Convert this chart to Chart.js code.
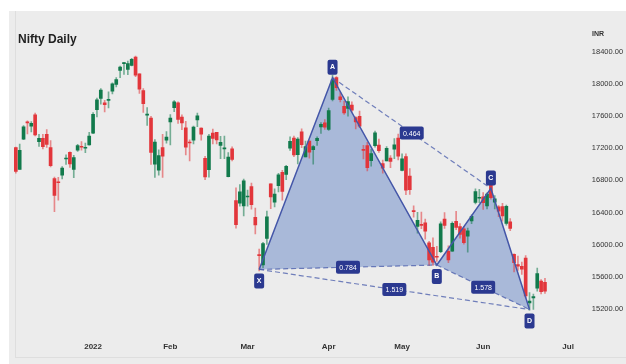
<!DOCTYPE html>
<html>
<head>
<meta charset="utf-8">
<script src="https://cdn.jsdelivr.net/npm/chart.js@4.4.1/dist/chart.umd.min.js"></script>
<style>
html, body { margin: 0; padding: 0; background: #fff; }
#panel { position: absolute; left: 9px; top: 11px; width: 617px; height: 353px; background: #ececec; }
#frame { position: absolute; left: 15px; top: 11px; width: 611px; height: 346px; border-left: 1px solid #dedede; border-bottom: 1px solid #dedede; }
#wrap { position: absolute; left: 0; top: 0; width: 626px; height: 364px; }
</style>
</head>
<body>
<div id="panel"></div>
<div id="frame"></div>
<div id="wrap"><canvas id="myChart" width="626" height="364"></canvas></div>
<script>
// trading days, Dec 2021 - early Jul 2022
const dec = [6,7,8,9,10,13,14,15,16,17,20,21,22,23,24,27,28,29,30,31].map(d => '2021-12-' + d)
const jan = [3,4,5,6,7,10,11,12,13,14,17,18,19,20,21,24,25,27,28,31].map(d => '2022-01-' + d)
const feb = [1,2,3,4,7,8,9,10,11,14,15,16,17,18,21,22,23,24,25,28].map(d => '2022-02-' + d)
const mar = [2,3,4,7,8,9,10,11,14,15,16,17,21,22,23,24,25,28,29,30,31].map(d => '2022-03-' + d)
const apr = [1,4,5,6,7,8,11,12,13,18,19,20,21,22,25,26,27,28,29].map(d => '2022-04-' + d)
const may = [2,4,5,6,9,10,11,12,13,16,17,18,19,20,23,24,25,26,27,30,31].map(d => '2022-05-' + d)
const jun = [1,2,3,6,7,8,9,10,13,14,15,16,17,20,21,22,23,24,27,28,29,30].map(d => '2022-06-' + d)
const jul = [1,4,5].map(d => '2022-07-' + d)
const dates = [].concat(dec, jan, feb, mar, apr, may, jun, jul)

const opens = [
  17209,16937,17315,17524,17476,17619,17283,17324,17374,17209,16824,16774,16865,17067,17150,16937,17177,17220,17201,17244,
  17388,17681,17821,17768,17797,17913,17997,18171,18257,18185,18235,18337,18129,17921,17613,17576,17001,16929,17208,17301,
  17529,17706,17767,17591,17456,17279,17303,17553,17451,17076,16933,17391,17398,17236,17192,16847,17195,16548,16515,16481,
  16593,16723,16340,15867,15747,16078,16757,16528,16733,16900,16876,17202,17329,17120,17405,17094,17289,17182,17297,17468,17519,
  17436,17810,18081,17843,17723,17698,17740,17584,17599,17183,17235,17045,17234,17242,17009,17043,17079,17189,17329,
  16924,17097,16854,16416,16227,16249,16270,16022,15967,15845,15912,16318,15917,15917,16290,16225,16196,16105,16296,16527,16578,
  16594,16481,16761,16530,16469,16474,16264,16284,15877,15750,15729,15833,15272,15334,15455,15545,15530
]
const highs = [
  17216,17252,17484,17543,17534,17639,17376,17376,17435,17298,16840,16837,16971,17118,17155,17112,17250,17285,17264,17400,
  17646,17827,17944,17797,17905,18017,18082,18227,18272,18287,18321,18351,18129,17944,17707,17599,17309,17182,17373,17410,
  17622,17794,17781,17617,17536,17306,17477,17639,17455,17099,17375,17440,17399,17351,17352,17148,17220,16706,16749,16815,
  16678,16768,16456,15945,16028,16418,16758,16694,16887,16927,16987,17344,17353,17334,17442,17291,17295,17235,17343,17522,17559,
  17703,18114,18095,17901,17787,17842,17779,17597,17663,17237,17276,17186,17414,17315,17054,17223,17110,17322,17378,
  17132,17132,16946,16484,16403,16404,16319,16041,16084,15978,16284,16400,15985,16284,16415,16262,16223,16205,16370,16695,16690,
  16649,16646,16793,16610,16487,16514,16492,16324,15886,15858,15783,15863,15401,15382,15707,15565,15580
]
const lows = [
  16891,16937,17308,17379,17405,17355,17225,17192,17211,16967,16410,16554,16819,16998,16963,16834,17161,17176,17146,17238,
  17383,17593,17749,17655,17704,17879,17965,18081,18120,18119,18228,18094,17885,17648,17485,16998,16837,16866,16836,17264,
  17244,17658,17511,17433,17119,17044,17255,17471,17303,16810,16839,17255,17256,17070,17070,16844,17043,16203,16478,16357,
  16478,16442,16133,15671,15711,16002,16447,16470,16656,16555,16810,17175,17096,17006,17208,17092,17077,17003,17235,17387,17435,
  17422,17791,17921,17779,17623,17600,17650,17442,17457,17067,16918,16978,17215,17150,16889,17043,16958,17071,17054,
  16917,16623,16624,16341,16142,16197,16067,15736,15740,15789,15900,16202,15775,15916,16185,16079,16006,15904,16262,16506,16521,
  16438,16443,16567,16444,16347,16293,16243,16172,15659,15678,15627,15335,15183,15191,15419,15385,15390
]
const closes = [
  16913,17176,17469,17517,17511,17368,17325,17221,17248,16985,16614,16771,16955,17072,17004,17086,17233,17213,17204,17354,
  17625,17805,17925,17745,17812,18003,18056,18212,18258,18256,18309,18113,17938,17757,17617,17149,17278,17110,17102,17340,
  17577,17780,17560,17516,17214,17266,17464,17606,17375,16843,17352,17322,17304,17276,17207,17092,17063,16248,16658,16794,
  16606,16498,16245,15863,16013,16345,16594,16630,16871,16663,16975,17287,17117,17316,17245,17223,17153,17222,17325,17498,17465,
  17670,18053,17957,17807,17640,17784,17675,17530,17476,17174,16959,17136,17393,17172,16954,17201,17038,17245,17103,
  17069,16677,16683,16411,16302,16240,16167,15808,15782,15842,16259,16240,15809,16266,16215,16125,16025,16170,16352,16661,16585,
  16523,16628,16584,16570,16416,16356,16478,16202,15774,15732,15692,15361,15294,15350,15638,15413,15420
]

// axis labels
const monthTickIdx = [20, 40, 60, 81, 100, 121, 143]
const monthTickText = ['2022', 'Feb', 'Mar', 'Apr', 'May', 'Jun', 'Jul']
const priceTicks = [15200, 15600, 16000, 16400, 16800, 17200, 17600, 18000, 18400]

// harmonic pattern points
const patternNames = ['X', 'A', 'B', 'C', 'D']
const patternIdx = [63, 82, 109, 123, 133]
const patternPrice = [15690, 18080, 15745, 16700, 15190]
const patternAbove = [false, true, false, true, false]
// ratio labels on XB, AC, BD, XD
const ratioPairs = [[0, 2], [1, 3], [2, 4], [0, 4]]
const ratioText = ['0.784', '0.464', '1.578', '1.519']

const green = '#127a4c'
const red = '#e2363b'
const bodyColors = opens.map((o, i) => closes[i] >= o ? green : red)
const wickColors = opens.map((o, i) => closes[i] >= o ? 'rgba(18,122,76,0.55)' : 'rgba(226,54,59,0.55)')

function roundRect(ctx, x, y, w, h, r) {
    ctx.beginPath()
    ctx.moveTo(x + r, y)
    ctx.arcTo(x + w, y, x + w, y + h, r)
    ctx.arcTo(x + w, y + h, x, y + h, r)
    ctx.arcTo(x, y + h, x, y, r)
    ctx.arcTo(x, y, x + w, y, r)
    ctx.closePath()
}

const patternPlugin = {
    id: 'pattern',
    beforeDatasetsDraw(chart) {
        const ctx = chart.ctx
        const xs = chart.scales.x, ys = chart.scales.y
        const p = patternIdx.map((v, i) => [xs.getPixelForValue(v), ys.getPixelForValue(patternPrice[i])])
        ctx.save()
        ctx.fillStyle = 'rgba(70,110,190,0.40)'
        ;[[0, 1, 2], [2, 3, 4]].forEach(t => {
            ctx.beginPath()
            ctx.moveTo(p[t[0]][0], p[t[0]][1])
            ctx.lineTo(p[t[1]][0], p[t[1]][1])
            ctx.lineTo(p[t[2]][0], p[t[2]][1])
            ctx.closePath()
            ctx.fill()
        })
        ctx.restore()
    },
    afterDatasetsDraw(chart) {
        const ctx = chart.ctx
        const xs = chart.scales.x, ys = chart.scales.y
        const p = patternIdx.map((v, i) => [xs.getPixelForValue(v), ys.getPixelForValue(patternPrice[i])])
        ctx.save()
        // dashed ratio lines
        ctx.strokeStyle = 'rgba(70,90,170,0.75)'
        ctx.lineWidth = 1.2
        ctx.setLineDash([5, 3])
        ratioPairs.forEach(pr => {
            ctx.beginPath()
            ctx.moveTo(p[pr[0]][0], p[pr[0]][1])
            ctx.lineTo(p[pr[1]][0], p[pr[1]][1])
            ctx.stroke()
        })
        // solid legs
        ctx.setLineDash([])
        ctx.strokeStyle = '#4456a8'
        ctx.lineWidth = 1.5
        ctx.beginPath()
        p.forEach((pt, i) => i ? ctx.lineTo(pt[0], pt[1]) : ctx.moveTo(pt[0], pt[1]))
        ctx.stroke()
        // ratio boxes
        ctx.textAlign = 'center'
        ctx.textBaseline = 'middle'
        ctx.font = '7px "Liberation Sans", Arial, sans-serif'
        ratioPairs.forEach((pr, i) => {
            const mx = (p[pr[0]][0] + p[pr[1]][0]) / 2
            const my = (p[pr[0]][1] + p[pr[1]][1]) / 2
            ctx.fillStyle = '#2b3990'
            roundRect(ctx, mx - 12, my - 6.5, 24, 13, 2)
            ctx.fill()
            ctx.fillStyle = '#fff'
            ctx.fillText(ratioText[i], mx, my + 0.5)
        })
        // point boxes
        ctx.font = 'bold 7px "Liberation Sans", Arial, sans-serif'
        p.forEach((pt, i) => {
            const top = patternAbove[i] ? pt[1] - 18 : pt[1] + 4
            ctx.fillStyle = '#2b3990'
            roundRect(ctx, pt[0] - 5, top, 10, 15, 2)
            ctx.fill()
            ctx.fillStyle = '#fff'
            ctx.fillText(patternNames[i], pt[0], top + 7.5)
        })
        ctx.restore()
    },
    afterDraw(chart) {
        const ctx = chart.ctx
        ctx.save()
        ctx.fillStyle = '#222'
        ctx.textBaseline = 'middle'
        ctx.font = 'bold 12px "Liberation Sans", Arial, sans-serif'
        ctx.fillText('Nifty Daily', 18, 40)
        ctx.font = 'bold 7px "Liberation Sans", Arial, sans-serif'
        ctx.fillStyle = '#333'
        ctx.fillText('INR', 592, 34)
        ctx.restore()
    }
}

const data = {
    labels: dates,
    datasets: [{
        label: 'wick',
        data: lows.map((l, i) => [l, highs[i]]),
        backgroundColor: wickColors,
        barThickness: 1,
        grouped: false,
        order: 2
    }, {
        label: 'body',
        data: opens.map((o, i) => [o, closes[i]]),
        backgroundColor: bodyColors,
        barThickness: 3,
        minBarLength: 1,
        grouped: false,
        order: 1
    }]
}

const config = {
    type: 'bar',
    data: data,
    plugins: [patternPlugin],
    options: {
        responsive: false,
        animation: false,
        layout: { padding: { left: 13.9, top: 20, right: 0, bottom: 0 } },
        plugins: { legend: { display: false }, tooltip: { enabled: false } },
        scales: {
            x: {
                offset: true,
                grid: { display: false, drawTicks: false },
                border: { display: false },
                afterFit: (s) => { s.height = 28 },
                ticks: {
                    autoSkip: false,
                    maxRotation: 0,
                    padding: 6,
                    color: '#333',
                    font: { family: '"Liberation Sans", Arial, sans-serif', size: 8, weight: 'bold' },
                    callback: (v) => {
                        const k = monthTickIdx.indexOf(v)
                        return k >= 0 ? monthTickText[k] : ''
                    }
                }
            },
            y: {
                position: 'right',
                min: 14860,
                max: 18800,
                grid: { display: false, drawTicks: false },
                border: { display: false },
                afterFit: (s) => { s.width = 48.2 },
                afterBuildTicks: (s) => { s.ticks = priceTicks.map(v => ({ value: v })) },
                ticks: {
                    padding: 14,
                    color: '#333',
                    font: { family: '"Liberation Sans", Arial, sans-serif', size: 7.5 },
                    callback: (v) => v.toFixed(2)
                }
            }
        }
    }
}

const myChart = new Chart(document.getElementById('myChart'), config)
</script>
</body>
</html>
